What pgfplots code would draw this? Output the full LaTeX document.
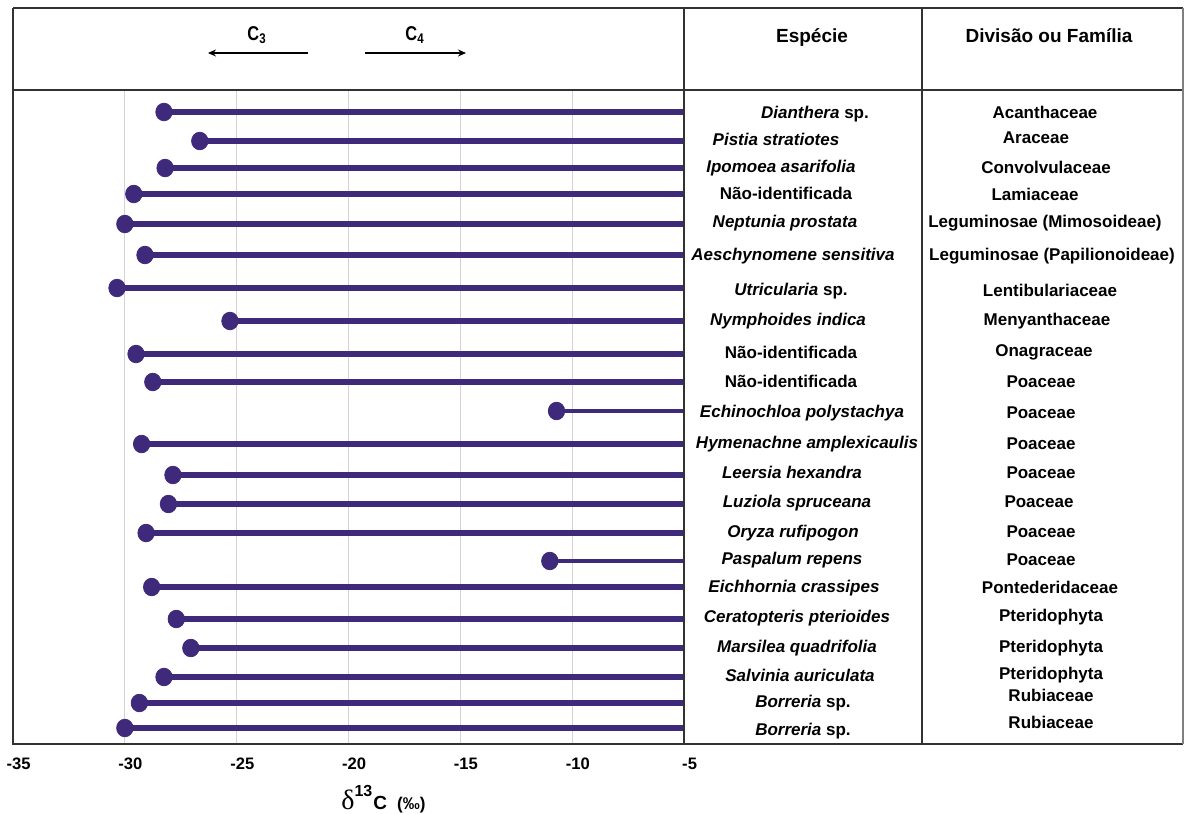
\documentclass[border=0pt]{standalone}
\usepackage{pgfplots}
\pgfplotsset{compat=1.18}
\usepackage{pgfplotstable}
\usepackage{fontspec}
\setmainfont{Liberation Sans}
\newfontfamily\serifdelta{Liberation Serif}
\usetikzlibrary{arrows.meta}
\definecolor{lolli}{RGB}{62,41,122}
\definecolor{tline}{RGB}{50,50,50}
\definecolor{gridc}{RGB}{215,208,214}

\pgfplotstableread{
x y
-28.25 112
-26.65 141
-28.2 168
-29.6 194
-30.0 224
-29.1 255
-30.35 288
-25.3 321
-29.5 354
-28.75 382
-29.25 444
-27.85 475
-28.05 504
-29.05 533
-28.8 587
-27.7 619
-27.05 648
-28.25 677
-29.35 703
-30.0 728
}\mainT

\pgfplotstableread{
x y
-10.7 411
-11.0 561
}\thinT

\begin{document}
\begin{tikzpicture}
\useasboundingbox (0,0) rectangle (592pt,407pt);
\begin{axis}[
  at={(6.5pt,35pt)}, anchor=south west,
  width=335.5pt, height=327pt, scale only axis,
  xmin=-35, xmax=-5, ymin=90, ymax=744, y dir=reverse,
  clip=false,
  xtick={-35,-30,-25,-20,-15,-10,-5},
  xticklabels={-35,-30,-25,-20,-15,-10,-5},
  ytick=\empty,
  major tick length=0pt,
  xmajorgrids, grid style={color=gridc, line width=0.6pt},
  axis line style={color=tline, line width=1pt},
  xticklabel style={font=\fontsize{8.3}{9}\selectfont\bfseries, xshift=2.8pt, yshift=-3.6pt},
]
\addplot[only marks, mark=*, mark size=4.1pt, color=lolli,
  mark options={yscale=1.07},
  error bars/.cd, x dir=plus, x explicit,
  error bar style={line width=2.8pt, color=lolli}, error mark=none]
  table[x=x, y=y, x error expr={-5-\thisrow{x}}] {\mainT};
\addplot[only marks, mark=*, mark size=4.1pt, color=lolli,
  mark options={yscale=1.07},
  error bars/.cd, x dir=plus, x explicit,
  error bar style={line width=2.0pt, color=lolli}, error mark=none]
  table[x=x, y=y, x error expr={-5-\thisrow{x}}] {\thinT};
\end{axis}

\begin{scope}[x=0.5pt, y=-0.5pt, yshift=407pt]
  % table lines
  \draw[color=tline, line width=1pt] (13,8) -- (1183,8);
  \draw[color=tline, line width=1pt] (13,90) -- (1183,90);
  \draw[color=tline, line width=1pt] (13,744) -- (1183,744);
  \draw[color=tline, line width=1pt] (13,8) -- (13,744);
  \draw[color=tline, line width=1pt] (684,8) -- (684,744);
  \draw[color=tline, line width=1pt] (922,8) -- (922,744);
  \draw[color=gray, line width=0.6pt] (1183,8) -- (1183,744);
  % header
  \begin{scope}[every node/.style={inner sep=0pt, anchor=base, font=\fontsize{9.5}{11}\selectfont\bfseries}]
    \node at (812,43) {Espécie};
    \node at (1049,43) {Divisão ou Família};
  \end{scope}
  \begin{scope}[every node/.style={inner sep=0pt, anchor=base, font=\fontsize{10}{11}\selectfont\bfseries}]
    \node at (257,41) {\scalebox{0.82}[1]{C\textsubscript{3}}};
    \node at (415,41) {\scalebox{0.82}[1]{C\textsubscript{4}}};
  \end{scope}
  \draw[line width=0.6pt, -{Stealth[length=4pt,width=3.5pt]}] (308,53) -- (208,53);
  \draw[line width=0.6pt, -{Stealth[length=4pt,width=3.5pt]}] (365,53) -- (466,53);
  % species
  \begin{scope}[every node/.style={inner sep=0pt, anchor=base, font=\fontsize{8.5}{10}\selectfont\bfseries}]
    \node at (815,119) {\textit{Dianthera} sp.};
    \node at (776,146) {\textit{Pistia stratiotes}};
    \node at (781,173) {\textit{Ipomoea asarifolia}};
    \node at (786,200) {Não-identificada};
    \node at (785,228) {\textit{Neptunia prostata}};
    \node at (793,261) {\textit{Aeschynomene sensitiva}};
    \node at (791,296) {\textit{Utricularia} sp.};
    \node at (788,326) {\textit{Nymphoides indica}};
    \node at (791,359) {Não-identificada};
    \node at (791,388) {Não-identificada};
    \node at (802,418) {\textit{Echinochloa polystachya}};
    \node at (807,449) {\textit{Hymenachne amplexicaulis}};
    \node at (792,479) {\textit{Leersia hexandra}};
    \node at (797,508) {\textit{Luziola spruceana}};
    \node at (793,538) {\textit{Oryza rufipogon}};
    \node at (792,565) {\textit{Paspalum repens}};
    \node at (794,593) {\textit{Eichhornia crassipes}};
    \node at (797,623) {\textit{Ceratopteris pterioides}};
    \node at (797,653) {\textit{Marsilea quadrifolia}};
    \node at (800,682) {\textit{Salvinia auriculata}};
    \node at (803,708) {\textit{Borreria} sp.};
    \node at (803,736) {\textit{Borreria} sp.};
    % families
    \node at (1045,119) {Acanthaceae};
    \node at (1036,144) {Araceae};
    \node at (1046,174) {Convolvulaceae};
    \node at (1035,201) {Lamiaceae};
    \node at (1045,228) {Leguminosae (Mimosoideae)};
    \node at (1052,261) {Leguminosae (Papilionoideae)};
    \node at (1050,297) {Lentibulariaceae};
    \node at (1047,326) {Menyanthaceae};
    \node at (1044,357) {Onagraceae};
    \node at (1041,388) {Poaceae};
    \node at (1041,419) {Poaceae};
    \node at (1041,450) {Poaceae};
    \node at (1041,479) {Poaceae};
    \node at (1039,508) {Poaceae};
    \node at (1041,538) {Poaceae};
    \node at (1041,566) {Poaceae};
    \node at (1050,594) {Pontederidaceae};
    \node at (1051,622) {Pteridophyta};
    \node at (1051,653) {Pteridophyta};
    \node at (1051,680) {Pteridophyta};
    \node at (1051,702) {Rubiaceae};
    \node at (1051,729) {Rubiaceae};
  \end{scope}
  % x label
  \node[inner sep=0pt, anchor=base west] at (341,810)
    {{\serifdelta\fontsize{14}{14}\selectfont δ}\raisebox{6.8pt}{\fontsize{8}{8}\selectfont\bfseries 13}\hspace{0.5pt}{\fontsize{9.5}{10}\selectfont\bfseries C}\hspace{5pt}{\fontsize{8.5}{9}\selectfont\bfseries(‰)}};
\end{scope}
\end{tikzpicture}
\end{document}
